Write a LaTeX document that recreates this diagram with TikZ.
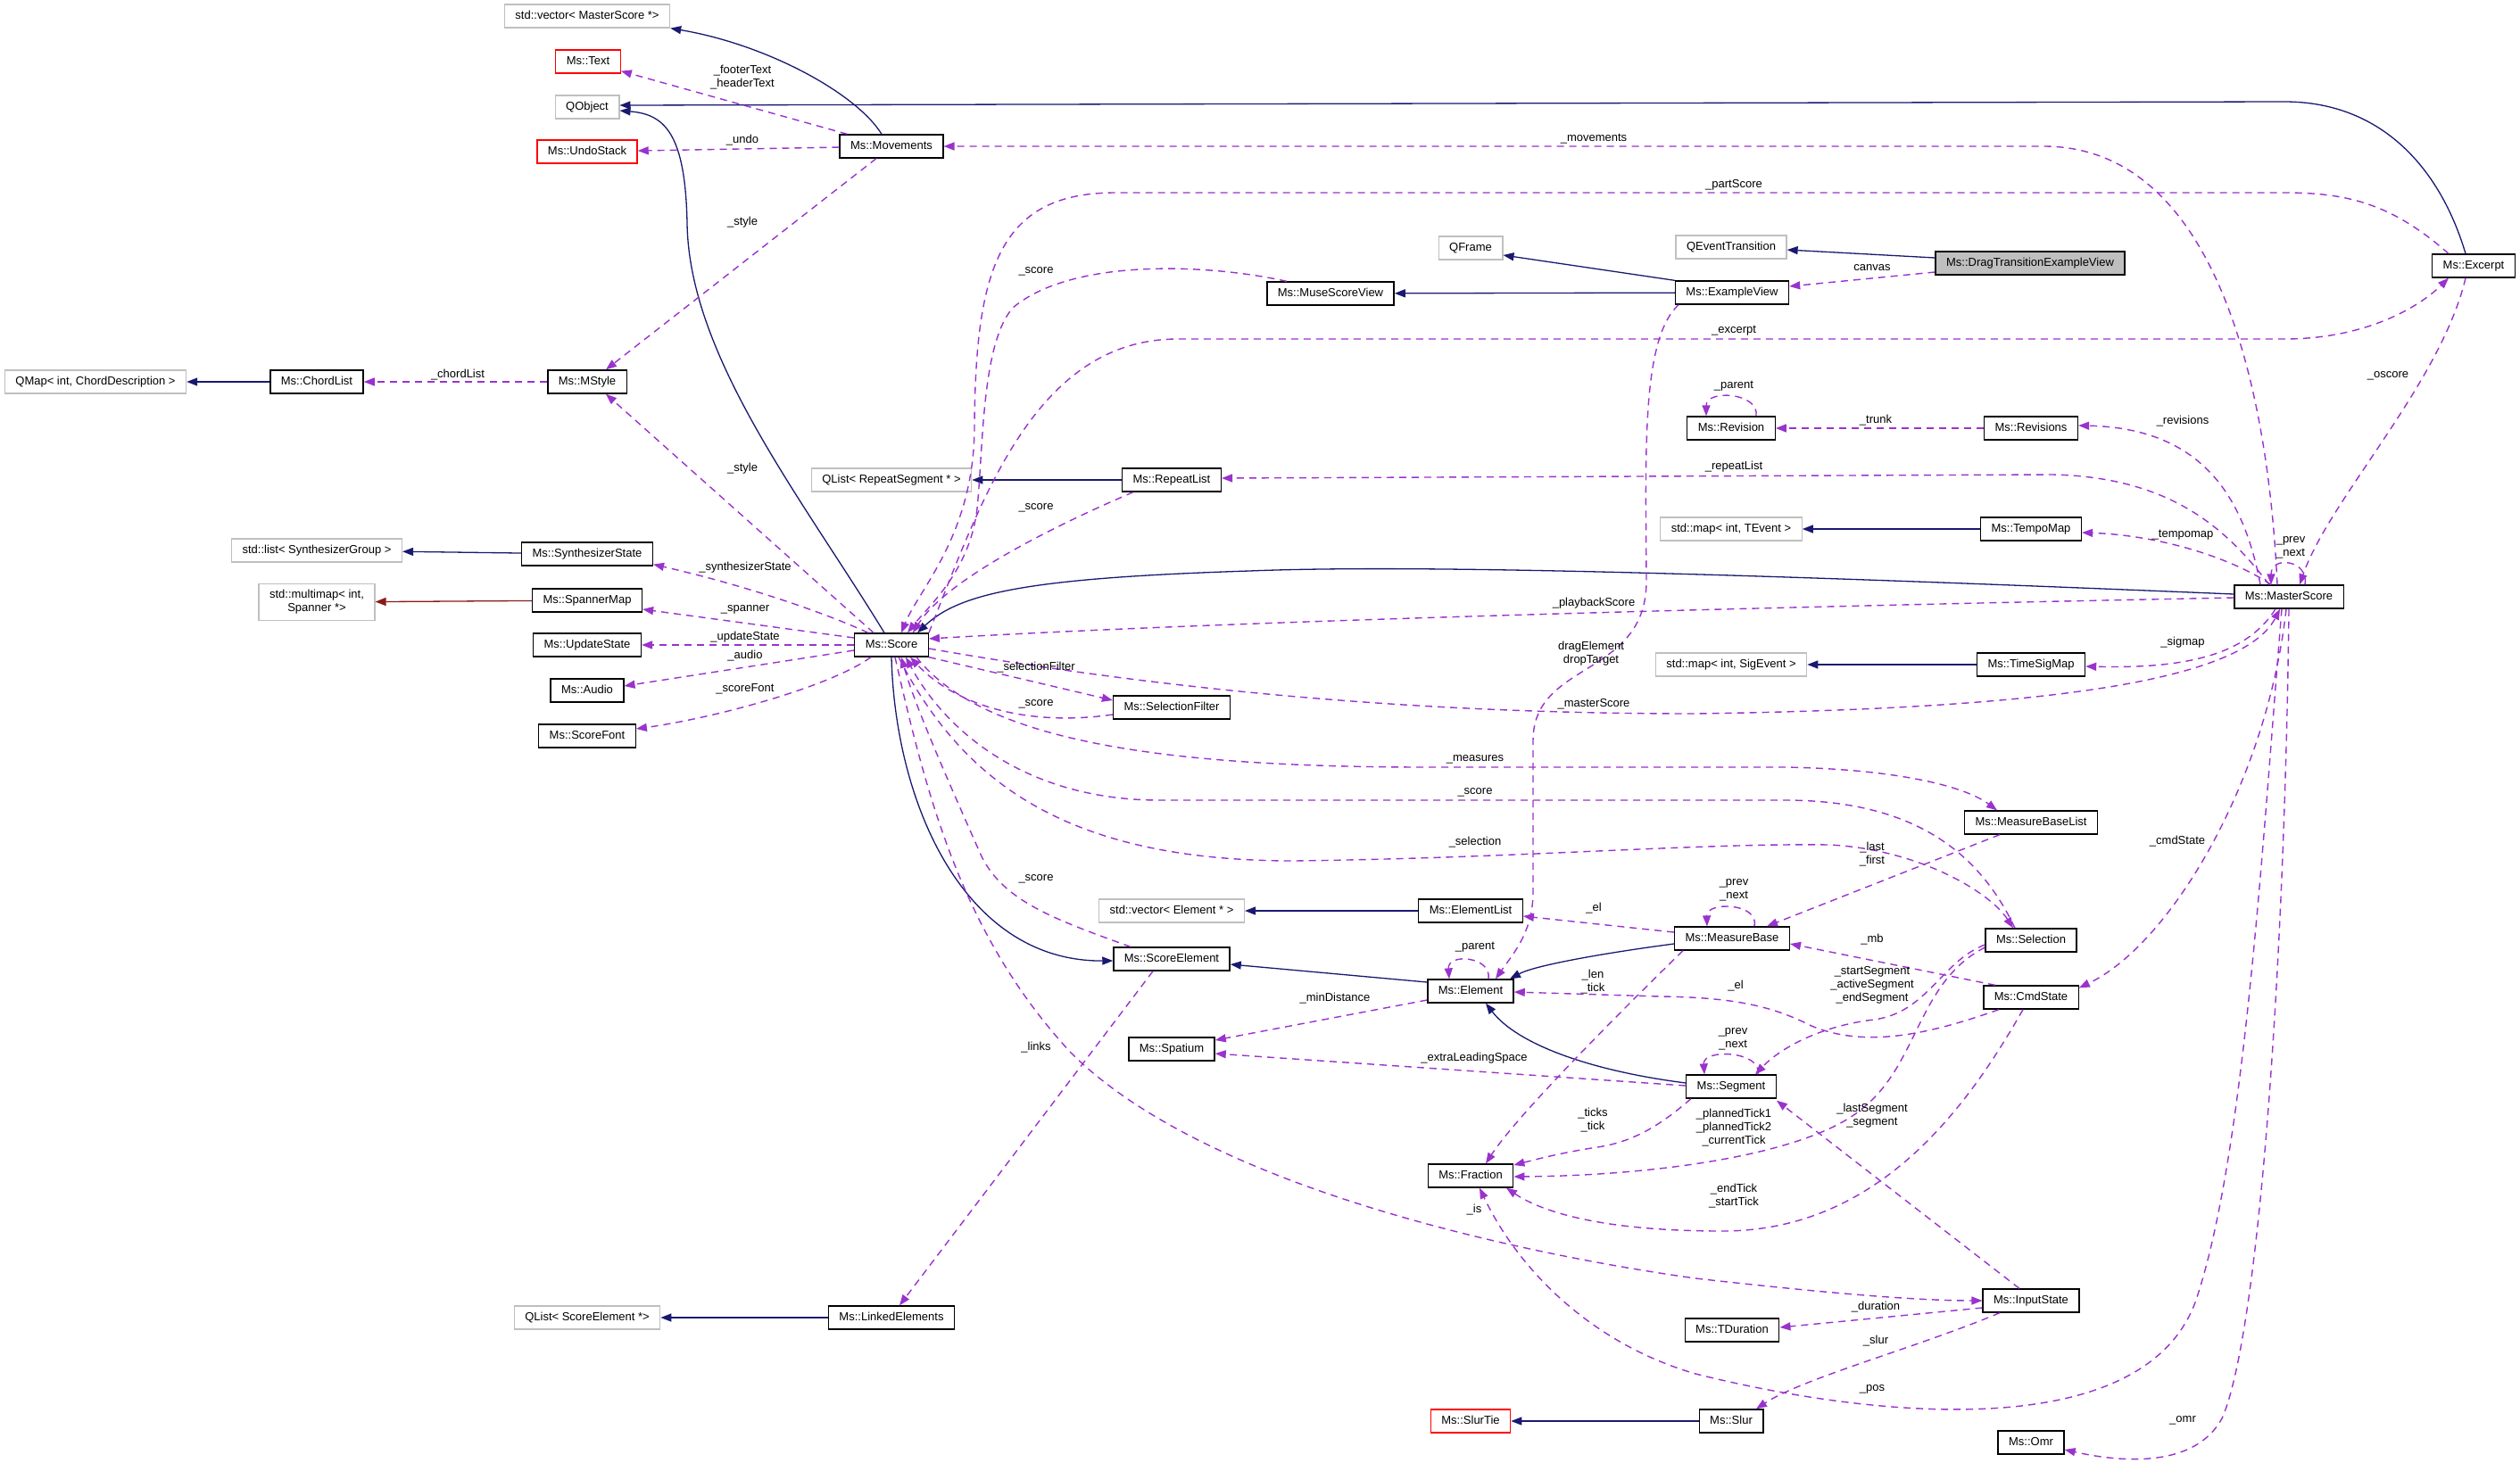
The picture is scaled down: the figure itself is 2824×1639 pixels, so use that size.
\documentclass[tikz,border=0pt]{standalone}
\usepackage{fontspec}
\setmainfont{Liberation Sans}
\usepackage{tikz}
\usetikzlibrary{arrows.meta}
\definecolor{inhblue}{RGB}{25,25,112}
\definecolor{mempurple}{RGB}{154,50,205}
\definecolor{tmplred}{RGB}{139,26,26}
\definecolor{extgray}{RGB}{191,191,191}
\tikzset{
  classbox/.style={rectangle, draw=black, line width=1.3pt, fill=white,
    font=\fontsize{13}{15}\selectfont, inner xsep=12pt, inner ysep=6.5pt,
    text height=9.5pt, text depth=3.5pt, align=center},
  extbox/.style={classbox, draw=extgray},
  redbox/.style={classbox, draw=red},
  focusbox/.style={classbox, fill=extgray},
  edgelabel/.style={font=\fontsize{13}{15}\selectfont, inner sep=0pt, align=center},
  inhline/.style={draw=inhblue, line width=1.3pt, -{Triangle[length=12pt,width=9pt]}},
  tmplline/.style={inhline, draw=tmplred},
  memline/.style={draw=mempurple, line width=1.4pt, dash pattern=on 8pt off 6pt,
    -{Triangle[length=12pt,width=9pt]}}
}
\begin{document}
\begin{tikzpicture}[x=1pt, y=-1pt]
  \useasboundingbox[fill=white] (0,0) rectangle (2824,1639);
  % classes
  \node[extbox] (vecms) at (658,18) {std::vector< MasterScore *>};
  \node[redbox] (mstext) at (659,69) {Ms::Text};
  \node[extbox] (qobject) at (658,120) {QObject};
  \node[redbox] (undostack) at (658,170) {Ms::UndoStack};
  \node[classbox] (movements) at (999,164) {Ms::Movements};
  \node[extbox] (qmap) at (107,428) {QMap< int, ChordDescription >};
  \node[classbox] (chordlist) at (355,428) {Ms::ChordList};
  \node[classbox] (mstyle) at (658,428) {Ms::MStyle};
  \node[extbox] (qframe) at (1648,278) {QFrame};
  \node[classbox] (musescoreview) at (1491,329) {Ms::MuseScoreView};
  \node[extbox] (qeventtr) at (1940,277) {QEventTransition};
  \node[classbox] (exampleview) at (1941,328) {Ms::ExampleView};
  \node[focusbox] (dragview) at (2275,295) {Ms::DragTransitionExampleView};
  \node[classbox] (excerpt) at (2772,298) {Ms::Excerpt};
  \node[classbox] (revision) at (1940,480) {Ms::Revision};
  \node[classbox] (revisions) at (2276,480) {Ms::Revisions};
  \node[extbox] (qlistrs) at (999,538) {QList< RepeatSegment * >};
  \node[classbox] (repeatlist) at (1313,538) {Ms::RepeatList};
  \node[extbox] (mapte) at (1940,593) {std::map< int, TEvent >};
  \node[classbox] (tempomap) at (2276,593) {Ms::TempoMap};
  \node[extbox] (listsg) at (355,617) {std::list< SynthesizerGroup >};
  \node[classbox] (synthstate) at (658,621) {Ms::SynthesizerState};
  \node[classbox] (masterscore) at (2565,669) {Ms::MasterScore};
  \node[extbox, text height=24.5pt] (multimap) at (355,675) {std::multimap< int,\\Spanner *>};
  \node[classbox] (spannermap) at (658,673) {Ms::SpannerMap};
  \node[classbox] (updatestate) at (658,723) {Ms::UpdateState};
  \node[classbox] (score) at (999,723) {Ms::Score};
  \node[extbox] (mapse) at (1940,745) {std::map< int, SigEvent >};
  \node[classbox] (timesigmap) at (2276,745) {Ms::TimeSigMap};
  \node[classbox] (audio) at (658,774) {Ms::Audio};
  \node[classbox] (scorefont) at (658,825) {Ms::ScoreFont};
  \node[classbox] (selfilter) at (1313,793) {Ms::SelectionFilter};
  \node[classbox] (measurebaselist) at (2276,922) {Ms::MeasureBaseList};
  \node[extbox] (vecel) at (1313,1021) {std::vector< Element * >};
  \node[classbox] (elementlist) at (1648,1021) {Ms::ElementList};
  \node[classbox] (measurebase) at (1941,1052) {Ms::MeasureBase};
  \node[classbox] (selection) at (2276,1054) {Ms::Selection};
  \node[classbox] (scoreelement) at (1313,1075) {Ms::ScoreElement};
  \node[classbox] (element) at (1648,1111) {Ms::Element};
  \node[classbox] (cmdstate) at (2276,1118) {Ms::CmdState};
  \node[classbox] (spatium) at (1313,1176) {Ms::Spatium};
  \node[classbox] (segment) at (1940,1218) {Ms::Segment};
  \node[classbox] (fraction) at (1648,1318) {Ms::Fraction};
  \node[classbox] (inputstate) at (2276,1458) {Ms::InputState};
  \node[extbox] (qlistse) at (658,1477) {QList< ScoreElement *>};
  \node[classbox] (linkedel) at (999,1477) {Ms::LinkedElements};
  \node[classbox] (tduration) at (1941,1491) {Ms::TDuration};
  \node[redbox] (slurtie) at (1648,1593) {Ms::SlurTie};
  \node[classbox] (slur) at (1940,1593) {Ms::Slur};
  \node[classbox] (omr) at (2276,1617) {Ms::Omr};

  % inheritance
  \draw[inhline] ([xshift=-11pt]movements.north) .. controls (960,105) and (860,50) .. (vecms.south east);
  \draw[inhline] ([xshift=-9pt]excerpt.north) .. controls (2735,190) and (2670,114) .. (2560,114) -- ([yshift=2pt]qobject.east);
  \draw[inhline] ([xshift=-8pt]score.north) .. controls (900,560) and (772,400) .. (770,250) .. controls (768,150) and (745,128) .. ([yshift=-4pt]qobject.east);
  \draw[inhline] ([yshift=3pt]masterscore.west) .. controls (2000,645) and (1600,632) .. (1400,640) .. controls (1150,648) and (1075,665) .. ([xshift=29pt]score.north);
  \draw[inhline] (score.south) .. controls (1003,900) and (1080,1078) .. ([yshift=-2pt]scoreelement.west);
  \draw[inhline] ([yshift=10pt]element.west) -- ([yshift=-6pt]scoreelement.east);
  \draw[inhline] ([yshift=-6pt]measurebase.west) .. controls (1800,1068) and (1720,1082) .. ([xshift=44pt]element.north);
  \draw[inhline] ([yshift=4pt]segment.west) .. controls (1780,1200) and (1700,1170) .. ([xshift=17pt]element.south);
  \draw[inhline] (elementlist) -- (vecel);
  \draw[inhline] (chordlist) -- (qmap);
  \draw[inhline] (synthstate) -- (listsg);
  \draw[tmplline] (spannermap) -- (multimap);
  \draw[inhline] (exampleview) -- (musescoreview);
  \draw[inhline] (exampleview.north west) -- ([yshift=-8pt]qframe.east);
  \draw[inhline] ([yshift=6pt]dragview.west) -- ([yshift=-3pt]qeventtr.east);
  \draw[inhline] (repeatlist) -- (qlistrs);
  \draw[inhline] (tempomap) -- (mapte);
  \draw[inhline] (timesigmap) -- (mapse);
  \draw[inhline] (linkedel) -- (qlistse);
  \draw[inhline] (slur) -- (slurtie);

  % members, upper left
  \draw[memline] ([xshift=9pt]movements.north west) -- ([yshift=3pt]mstext.south east);
  \node[edgelabel] (lfooter) at (832,87) {\_footerText\\\_headerText};
  \draw[memline] (movements) -- (undostack);
  \node[edgelabel] (lundo) at (832,157) {\_undo};
  \draw[memline] ([xshift=-17pt]movements.south) -- ([xshift=21pt]mstyle.north);
  \node[edgelabel] (lstyleone) at (832,249) {\_style};
  \draw[memline] (mstyle) -- (chordlist);
  \node[edgelabel] (lchord) at (513,420) {\_chordList};
  \draw[memline] ([xshift=-20pt]score.north) -- ([xshift=21pt]mstyle.south);
  \node[edgelabel] (lstyletwo) at (832,525) {\_style};

  % members of Score, left
  \draw[memline] ([xshift=-26pt]score.north) .. controls (920,685) and (830,655) .. ([yshift=2pt]synthstate.south east);
  \node[edgelabel] (lsynth) at (835,636) {\_synthesizerState};
  \draw[memline] ([yshift=8pt]score.west) -- ([yshift=-10pt]spannermap.east);
  \node[edgelabel] (lspan) at (835,683) {\_spanner};
  \draw[memline] (score) -- (updatestate);
  \node[edgelabel] (lupd) at (835,714) {\_updateState};
  \draw[memline] ([yshift=-6pt]score.west) -- ([yshift=5pt]audio.east);
  \node[edgelabel] (laudio) at (835,735) {\_audio};
  \draw[memline] ([xshift=-23pt]score.south) .. controls (930,770) and (800,805) .. ([yshift=8pt]scorefont.east);
  \node[edgelabel] (lfont) at (835,772) {\_scoreFont};

  % top area
  \draw[memline] ([xshift=-13pt]masterscore.north) .. controls (2540,400) and (2470,164) .. (2290,164) -- (movements.east);
  \node[edgelabel] (lmov) at (1786,156) {\_movements};
  \draw[memline] ([xshift=-28pt]excerpt.north) .. controls (2680,228) and (2630,216) .. (2560,216) -- (1250,216) .. controls (1120,216) and (1093,300) .. (1092,480) .. controls (1091,600) and (1030,660) .. ([xshift=11pt]score.north);
  \node[edgelabel] (lpart) at (1943,207) {\_partScore};
  \draw[memline] ([xshift=-49pt]musescoreview.north) .. controls (1350,295) and (1200,290) .. (1135,345) .. controls (1100,385) and (1102,500) .. (1095,570) .. controls (1087,640) and (1040,680) .. ([xshift=18pt]score.north);
  \node[edgelabel] (lscoreone) at (1161,304) {\_score};
  \draw[memline] ([xshift=-43pt]repeatlist.south) .. controls (1180,590) and (1060,650) .. ([xshift=24pt]score.north);
  \node[edgelabel] (lscoretwo) at (1161,569) {\_score};
  \draw[memline] (score.north east) .. controls (1100,560) and (1160,380) .. (1320,380) -- (2560,380) .. controls (2650,380) and (2710,345) .. ([xshift=-28pt]excerpt.south);
  \node[edgelabel] (lexc) at (1943,371) {\_excerpt};
  \draw[memline] ([xshift=-60pt]exampleview.south) .. controls (1840,380) and (1844,500) .. (1845,650) .. controls (1846,760) and (1718,740) .. (1718,830) -- (1718,1000) .. controls (1718,1045) and (1695,1070) .. ([xshift=28pt]element.north);
  \node[edgelabel] (ldrag) at (1783,733) {dragElement\\dropTarget};
  \draw[memline] ([yshift=-10pt]dragview.west) -- ([yshift=7pt]exampleview.east);
  \node[edgelabel] (lcanvas) at (2098,300) {canvas};
  \draw[memline] (revisions) -- (revision);
  \node[edgelabel] (ltrunk) at (2102,471) {\_trunk};
  \draw[memline] ([xshift=28pt]revision.north) .. controls (1972,440) and (1912,436) .. ([xshift=-28pt]revision.north);
  \node[edgelabel] (lparentone) at (1943,433) {\_parent};

  % MasterScore
  \draw[memline] ([xshift=-32pt]masterscore.north) .. controls (2515,560) and (2470,480) .. ([yshift=3pt]revisions.east);
  \node[edgelabel] (lrevs) at (2446,472) {\_revisions};
  \draw[memline] ([xshift=-22pt]masterscore.north) .. controls (2500,600) and (2440,535) .. (2300,532) -- ([yshift=2pt]repeatlist.east);
  \node[edgelabel] (lrep) at (1943,523) {\_repeatList};
  \draw[memline] ([xshift=-20pt]masterscore.north) .. controls (2500,625) and (2420,600) .. ([yshift=-4pt]tempomap.east);
  \node[edgelabel] (ltempo) at (2446,600) {\_tempomap};
  \draw[memline] ([xshift=18pt]masterscore.north) .. controls (2588,628) and (2545,622) .. ([xshift=-20pt]masterscore.north);
  \node[edgelabel] (lprevone) at (2567,614) {\_prev\\\_next};
  \draw[memline] ([xshift=-9pt]excerpt.south) .. controls (2735,430) and (2610,560) .. ([xshift=12pt]masterscore.north);
  \node[edgelabel] (loscore) at (2676,421) {\_oscore};
  \draw[memline] ([xshift=-15pt]masterscore.south) .. controls (2520,730) and (2460,750) .. ([yshift=-2pt]timesigmap.east);
  \node[edgelabel] (lsig) at (2446,720) {\_sigmap};
  \draw[memline] ([yshift=-1pt]masterscore.west) .. controls (2000,680) and (1400,695) .. ([yshift=7pt]score.east);
  \node[edgelabel] (lplay) at (1786,676) {\_playbackScore};
  \draw[memline] ([yshift=-4pt]score.east) .. controls (1400,790) and (1700,800) .. (1900,800) .. controls (2250,795) and (2510,770) .. ([xshift=-10pt]masterscore.south);
  \node[edgelabel] (lmaster) at (1786,789) {\_masterScore};
  \draw[memline] ([xshift=-3pt]masterscore.south) .. controls (2540,880) and (2430,1060) .. ([yshift=-3pt]cmdstate.north east);
  \node[edgelabel] (lcmd) at (2440,943) {\_cmdState};
  \draw[memline] ([xshift=-8pt]masterscore.south) .. controls (2535,950) and (2515,1300) .. (2460,1460) .. controls (2400,1620) and (2100,1590) .. (1900,1540) .. controls (1780,1505) and (1700,1420) .. ([xshift=10pt]fraction.south);
  \node[edgelabel] (lpos) at (2098,1557) {\_pos};
  \draw[memline] (masterscore.south) .. controls (2560,1100) and (2530,1500) .. (2490,1590) .. controls (2460,1645) and (2380,1640) .. ([yshift=-8pt]omr.east);
  \node[edgelabel] (lomr) at (2446,1592) {\_omr};

  % Score, right and below
  \draw[memline] (score.south east) -- ([yshift=8pt]selfilter.west);
  \node[edgelabel] (lselfil) at (1161,748) {\_selectionFilter};
  \draw[memline] ([yshift=-8pt]selfilter.west) .. controls (1150,815) and (1070,790) .. ([xshift=21pt]score.south);
  \node[edgelabel] (lscorethree) at (1161,789) {\_score};
  \draw[memline] ([xshift=28pt]score.south) .. controls (1100,830) and (1300,860) .. (1600,860) -- (2000,860) .. controls (2120,862) and (2200,880) .. ([xshift=-38pt]measurebaselist.north);
  \node[edgelabel] (lmeas) at (1653,851) {\_measures};
  \draw[memline] ([xshift=-18pt]selection.north) .. controls (2220,960) and (2150,897) .. (2000,897) -- (1300,897) .. controls (1150,897) and (1060,820) .. ([xshift=16pt]score.south);
  \node[edgelabel] (lscorefour) at (1653,888) {\_score};
  \draw[memline] ([xshift=8pt]score.south) .. controls (1080,880) and (1200,965) .. (1450,965) .. controls (1700,962) and (1900,945) .. (2050,947) .. controls (2150,952) and (2230,1000) .. ([xshift=-20pt]selection.north);
  \node[edgelabel] (lsel) at (1653,944) {\_selection};
  \draw[memline] ([xshift=-46pt]scoreelement.north) .. controls (1180,1030) and (1125,1010) .. (1100,960) .. controls (1060,870) and (1025,790) .. ([xshift=11pt]score.south);
  \node[edgelabel] (lscorefive) at (1161,985) {\_score};
  \draw[memline] ([xshift=4pt]score.south) .. controls (1040,900) and (1080,1050) .. (1200,1180) .. controls (1350,1330) and (1700,1405) .. (1900,1433) .. controls (2050,1450) and (2150,1458) .. (inputstate.west);
  \node[edgelabel] (lis) at (1652,1356) {\_is};
  \draw[memline] ([xshift=-21pt]scoreelement.south) -- ([xshift=9pt]linkedel.north);
  \node[edgelabel] (llinks) at (1161,1174) {\_links};

  % MeasureBase, Element, Segment
  \draw[memline] ([xshift=-35pt]measurebaselist.south) -- ([xshift=39pt]measurebase.north);
  \node[edgelabel] (llast) at (2098,958) {\_last\\\_first};
  \draw[memline] ([xshift=25pt]measurebase.north) .. controls (1972,1012) and (1912,1010) .. ([xshift=-28pt]measurebase.north);
  \node[edgelabel] (lprevtwo) at (1943,998) {\_prev\\\_next};
  \draw[memline] ([yshift=7pt]measurebase.west) -- ([yshift=-6pt]elementlist.east);
  \node[edgelabel] (lelone) at (1786,1018) {\_el};
  \draw[memline] ([xshift=-55pt]measurebase.south) .. controls (1820,1130) and (1700,1250) .. ([xshift=17pt]fraction.north);
  \node[edgelabel] (llen) at (1785,1101) {\_len\\\_tick};
  \draw[memline] ([xshift=-40pt]cmdstate.north) -- ([yshift=-6pt]measurebase.east);
  \node[edgelabel] (lmb) at (2098,1053) {\_mb};
  \draw[memline] ([yshift=-5pt]selection.west) .. controls (2175,1078) and (2160,1135) .. (2100,1143) .. controls (2040,1150) and (1995,1175) .. ([xshift=27pt]segment.north);
  \node[edgelabel] (lstart) at (2098,1104) {\_startSegment\\\_activeSegment\\\_endSegment};
  \draw[memline] ([xshift=-36pt]cmdstate.south) .. controls (2160,1160) and (2090,1175) .. (2030,1150) .. controls (1990,1130) and (1950,1118) .. (1860,1117) -- ([yshift=-1pt]element.east);
  \node[edgelabel] (leltwo) at (1945,1105) {\_el};
  \draw[memline] ([xshift=-9pt]cmdstate.south) .. controls (2200,1250) and (2100,1380) .. (1930,1380) .. controls (1800,1380) and (1730,1360) .. ([xshift=40pt]fraction.south);
  \node[edgelabel] (lendtick) at (1943,1341) {\_endTick\\\_startTick};
  \draw[memline] ([yshift=-8pt]selection.west) .. controls (2150,1100) and (2150,1190) .. (2090,1240) .. controls (2030,1295) and (1850,1318) .. ([yshift=-1pt]fraction.east);
  \node[edgelabel] (lplanned) at (1943,1264) {\_plannedTick1\\\_plannedTick2\\\_currentTick};
  \draw[memline] ([xshift=-45pt]segment.south) .. controls (1860,1262) and (1830,1280) .. (1790,1286) .. controls (1750,1292) and (1720,1300) .. ([yshift=12pt]fraction.east);
  \node[edgelabel] (lticks) at (1785,1256) {\_ticks\\\_tick};
  \draw[memline] ([yshift=1pt]segment.west) -- ([yshift=-5pt]spatium.east);
  \node[edgelabel] (lextra) at (1652,1186) {\_extraLeadingSpace};
  \draw[memline] ([yshift=-10pt]element.west) -- ([yshift=10pt]spatium.east);
  \node[edgelabel] (lmin) at (1496,1119) {\_minDistance};
  \draw[memline] ([xshift=20pt]element.north) .. controls (1672,1072) and (1622,1068) .. ([xshift=-24pt]element.north);
  \node[edgelabel] (lparenttwo) at (1653,1062) {\_parent};
  \draw[memline] ([xshift=30pt]segment.north) .. controls (1975,1178) and (1908,1175) .. ([xshift=-30pt]segment.north);
  \node[edgelabel] (lprevthree) at (1942,1165) {\_prev\\\_next};

  % InputState
  \draw[memline] ([xshift=-13pt]inputstate.north) -- ([yshift=-2pt]segment.south east);
  \node[edgelabel] (llastseg) at (2098,1251) {\_lastSegment\\\_segment};
  \draw[memline] ([yshift=-8pt]inputstate.west) -- ([yshift=3pt]tduration.east);
  \node[edgelabel] (ldur) at (2102,1465) {\_duration};
  \draw[memline] ([xshift=-35pt]inputstate.south) .. controls (2150,1510) and (2020,1545) .. ([xshift=28pt]slur.north);
  \node[edgelabel] (lslur) at (2102,1503) {\_slur};
\end{tikzpicture}
\end{document}
